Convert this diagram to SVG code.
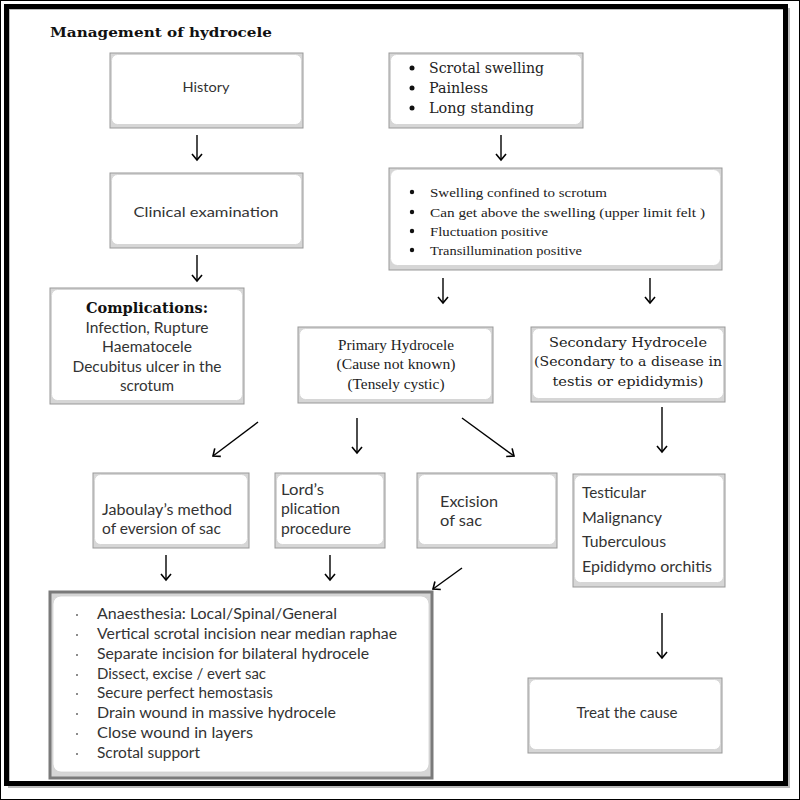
<svg xmlns="http://www.w3.org/2000/svg" width="800" height="800" viewBox="0 0 800 800">
<defs>
<style>
.ob{fill:#d6d6d6;stroke:#999;stroke-width:1}
.ib{fill:#fff;stroke:#d0d0d0;stroke-width:0.8}
.sans{font-family:Lato,"Liberation Sans",sans-serif;fill:#333}
.serif{font-family:"DejaVu Serif","Liberation Serif",serif;fill:#222}
.tser{font-family:"Liberation Serif",serif;fill:#222}
.c{stroke:#000;stroke-width:1.4;fill:none}
</style>
<marker id="ah" markerUnits="userSpaceOnUse" markerWidth="14" markerHeight="14" refX="7" refY="6" orient="auto" viewBox="0 0 14 12">
<path d="M1,1 L7,6 L1,11" stroke="#000" stroke-width="1.6" fill="none"/>
</marker>
</defs>
<rect x="0" y="0" width="800" height="800" fill="#fff"/>
<rect x="0.5" y="0.5" width="799" height="799" fill="none" stroke="#000" stroke-width="1"/>
<rect x="9" y="9" width="780" height="778" fill="none" stroke="#bbb" stroke-width="2"/>
<rect x="6.5" y="6.5" width="779" height="777" fill="none" stroke="#000" stroke-width="5"/>

<text x="50" y="37" font-family="'DejaVu Serif',serif" font-weight="bold" font-size="13.5" textLength="222" lengthAdjust="spacingAndGlyphs" fill="#111">Management of hydrocele</text>

<g id="history">
<rect class="ob" x="110" y="53" width="193" height="75"/>
<rect class="ib" x="111.5" y="54.5" width="190" height="70" rx="6"/>
<text class="sans" x="206" y="92" font-size="13" text-anchor="middle" textLength="47" lengthAdjust="spacingAndGlyphs">History</text>
</g>

<g id="symptoms">
<rect class="ob" x="389" y="53" width="194" height="75"/>
<rect class="ib" x="390.5" y="54.5" width="191" height="70" rx="6"/>
<circle cx="412" cy="68" r="2.5" fill="#111"/>
<circle cx="412" cy="88" r="2.5" fill="#111"/>
<circle cx="412" cy="108" r="2.5" fill="#111"/>
<g class="serif" font-size="15">
<text x="429" y="73" textLength="115" lengthAdjust="spacingAndGlyphs">Scrotal swelling</text>
<text x="429" y="93" textLength="59" lengthAdjust="spacingAndGlyphs">Painless</text>
<text x="429" y="113" textLength="105" lengthAdjust="spacingAndGlyphs">Long standing</text>
</g>
</g>

<g id="clinical">
<rect class="ob" x="110" y="173" width="193" height="75"/>
<rect class="ib" x="111.5" y="174.5" width="190" height="70" rx="6"/>
<text class="sans" x="206" y="217" font-size="14" text-anchor="middle" textLength="145" lengthAdjust="spacingAndGlyphs">Clinical  examination</text>
</g>

<g id="signs">
<rect class="ob" x="389" y="168" width="333" height="102"/>
<rect class="ib" x="390.5" y="169.5" width="330" height="96" rx="7"/>
<circle cx="412" cy="192" r="2.2" fill="#111"/>
<circle cx="412" cy="212" r="2.2" fill="#111"/>
<circle cx="412" cy="231" r="2.2" fill="#111"/>
<circle cx="412" cy="250" r="2.2" fill="#111"/>
<g class="tser" font-size="13.5">
<text x="430" y="197" textLength="177" lengthAdjust="spacingAndGlyphs">Swelling confined to scrotum</text>
<text x="430" y="217" textLength="275" lengthAdjust="spacingAndGlyphs">Can get above the swelling  (upper limit felt )</text>
<text x="430" y="236" textLength="118" lengthAdjust="spacingAndGlyphs">Fluctuation positive</text>
<text x="430" y="255" textLength="152" lengthAdjust="spacingAndGlyphs">Transillumination positive</text>
</g>
</g>

<g id="complications">
<rect class="ob" x="50" y="288" width="194" height="116"/>
<rect class="ib" x="51.5" y="289.5" width="191" height="111" rx="6"/>
<text x="147" y="313" font-family="'DejaVu Serif',serif" font-weight="bold" font-size="15" text-anchor="middle" textLength="122" lengthAdjust="spacingAndGlyphs" fill="#111">Complications:</text>
<g class="sans" font-size="14.5" text-anchor="middle">
<text x="147" y="333" textLength="123" lengthAdjust="spacingAndGlyphs">Infection, Rupture</text>
<text x="147" y="352" textLength="90" lengthAdjust="spacingAndGlyphs">Haematocele</text>
<text x="147" y="372" textLength="149" lengthAdjust="spacingAndGlyphs">Decubitus ulcer in the</text>
<text x="147" y="391" textLength="54" lengthAdjust="spacingAndGlyphs">scrotum</text>
</g>
</g>

<g id="primary">
<rect class="ob" x="298" y="327" width="195" height="76"/>
<rect class="ib" x="299.5" y="328.5" width="192" height="71" rx="6"/>
<g class="tser" font-size="14.5" text-anchor="middle">
<text x="396" y="350" textLength="116" lengthAdjust="spacingAndGlyphs">Primary Hydrocele</text>
<text x="396" y="369" textLength="119" lengthAdjust="spacingAndGlyphs">(Cause not known)</text>
<text x="396" y="389" textLength="97" lengthAdjust="spacingAndGlyphs">(Tensely cystic)</text>
</g>
</g>

<g id="secondary">
<rect class="ob" x="531" y="327" width="194" height="75"/>
<rect class="ib" x="532.5" y="328.5" width="191" height="70" rx="6"/>
<g class="serif" font-size="13" text-anchor="middle">
<text x="628" y="347" textLength="158" lengthAdjust="spacingAndGlyphs">Secondary Hydrocele</text>
<text x="628" y="366" textLength="188" lengthAdjust="spacingAndGlyphs">(Secondary to a disease in</text>
<text x="628" y="386" textLength="151" lengthAdjust="spacingAndGlyphs">testis or epididymis)</text>
</g>
</g>

<g id="jaboulay">
<rect class="ob" x="93" y="473" width="156" height="75"/>
<rect class="ib" x="94.5" y="474.5" width="153" height="70" rx="6"/>
<g class="sans" font-size="14.5">
<text x="102" y="515" textLength="130" lengthAdjust="spacingAndGlyphs">Jaboulay’s method</text>
<text x="102" y="534" textLength="119" lengthAdjust="spacingAndGlyphs">of eversion of sac</text>
</g>
</g>

<g id="lords">
<rect class="ob" x="275" y="473" width="110" height="75"/>
<rect class="ib" x="276.5" y="474.5" width="107" height="70" rx="6"/>
<g class="sans" font-size="14.5">
<text x="281" y="495" textLength="43" lengthAdjust="spacingAndGlyphs">Lord’s</text>
<text x="281" y="514" textLength="59" lengthAdjust="spacingAndGlyphs">plication</text>
<text x="281" y="534" textLength="70" lengthAdjust="spacingAndGlyphs">procedure</text>
</g>
</g>

<g id="excision">
<rect class="ob" x="417" y="473" width="140" height="75"/>
<rect class="ib" x="418.5" y="474.5" width="137" height="70" rx="6"/>
<g class="sans" font-size="14.5">
<text x="440" y="507" textLength="58" lengthAdjust="spacingAndGlyphs">Excision</text>
<text x="440" y="526" textLength="42" lengthAdjust="spacingAndGlyphs">of sac</text>
</g>
</g>

<g id="causes">
<rect class="ob" x="573" y="474" width="152" height="113"/>
<rect class="ib" x="574.5" y="475.5" width="149" height="107" rx="6"/>
<g class="sans" font-size="14.5">
<text x="582" y="498" textLength="64" lengthAdjust="spacingAndGlyphs">Testicular</text>
<text x="582" y="523" textLength="80" lengthAdjust="spacingAndGlyphs">Malignancy</text>
<text x="582" y="547" textLength="84" lengthAdjust="spacingAndGlyphs">Tuberculous</text>
<text x="582" y="572" textLength="130" lengthAdjust="spacingAndGlyphs">Epididymo orchitis</text>
</g>
</g>

<g id="procedure">
<rect x="50" y="592" width="382" height="186" fill="#d6d6d6" stroke="#7a7a7a" stroke-width="3"/>
<rect class="ib" x="53" y="596" width="376" height="176" rx="8"/>
<g fill="#666">
<circle cx="77" cy="615" r="1"/><circle cx="77" cy="635" r="1"/><circle cx="77" cy="655" r="1"/><circle cx="77" cy="675" r="1"/>
<circle cx="77" cy="694" r="1"/><circle cx="77" cy="714" r="1"/><circle cx="77" cy="734" r="1"/><circle cx="77" cy="754" r="1"/>
</g>
<g class="sans" font-size="14.5">
<text x="97" y="619" textLength="240" lengthAdjust="spacingAndGlyphs">Anaesthesia:  Local/Spinal/General</text>
<text x="97" y="639" textLength="300" lengthAdjust="spacingAndGlyphs">Vertical scrotal incision near median raphae</text>
<text x="97" y="659" textLength="272" lengthAdjust="spacingAndGlyphs">Separate incision for bilateral hydrocele</text>
<text x="97" y="679" textLength="169" lengthAdjust="spacingAndGlyphs">Dissect, excise / evert sac</text>
<text x="97" y="698" textLength="176" lengthAdjust="spacingAndGlyphs">Secure perfect hemostasis</text>
<text x="97" y="718" textLength="239" lengthAdjust="spacingAndGlyphs">Drain wound in massive hydrocele</text>
<text x="97" y="738" textLength="156" lengthAdjust="spacingAndGlyphs">Close  wound in layers</text>
<text x="97" y="758" textLength="103" lengthAdjust="spacingAndGlyphs">Scrotal support</text>
</g>
</g>

<g id="treat">
<rect class="ob" x="528" y="678" width="194" height="75"/>
<rect class="ib" x="529.5" y="679.5" width="191" height="70" rx="6"/>
<text class="sans" x="627" y="718" font-size="14.5" text-anchor="middle" textLength="101" lengthAdjust="spacingAndGlyphs">Treat the cause</text>
</g>

<g id="connectors">
<line class="c" x1="197" y1="135" x2="197" y2="160" marker-end="url(#ah)"/>
<line class="c" x1="197" y1="255" x2="197" y2="281" marker-end="url(#ah)"/>
<line class="c" x1="501" y1="135" x2="501" y2="160" marker-end="url(#ah)"/>
<line class="c" x1="443" y1="278" x2="443" y2="303" marker-end="url(#ah)"/>
<line class="c" x1="650" y1="278" x2="650" y2="303" marker-end="url(#ah)"/>
<line class="c" x1="258" y1="422" x2="213" y2="456" marker-end="url(#ah)"/>
<line class="c" x1="357" y1="418" x2="357" y2="453" marker-end="url(#ah)"/>
<line class="c" x1="462" y1="418" x2="514" y2="456" marker-end="url(#ah)"/>
<line class="c" x1="662" y1="407" x2="662" y2="452" marker-end="url(#ah)"/>
<line class="c" x1="166" y1="555" x2="166" y2="580" marker-end="url(#ah)"/>
<line class="c" x1="330" y1="555" x2="330" y2="580" marker-end="url(#ah)"/>
<line class="c" x1="462" y1="568" x2="433" y2="589" marker-end="url(#ah)"/>
<line class="c" x1="662" y1="613" x2="662" y2="658" marker-end="url(#ah)"/>
</g>
</svg>
